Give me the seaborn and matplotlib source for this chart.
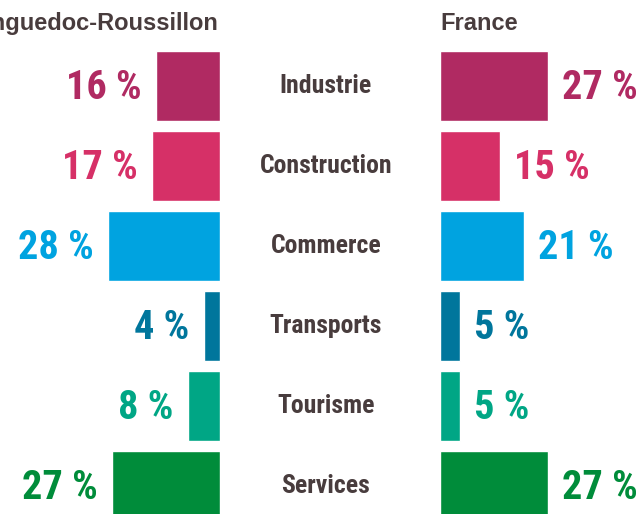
"""Share of employment by sector: Languedoc-Roussillon vs France."""

import matplotlib
matplotlib.use("Agg")
import matplotlib.pyplot as plt
import matplotlib.transforms as mtransforms
import pandas as pd
import seaborn as sns

sectors = ["Industrie", "Construction", "Commerce", "Transports", "Tourisme", "Services"]
region_pct = [16, 17, 28, 4, 8, 27]
france_pct = [27, 15, 21, 5, 5, 27]
sector_colors = ["#b02a62", "#d63067", "#00a3e0", "#00769c", "#00a685", "#008c3a"]

region_title = "Languedoc-Roussillon"
france_title = "France"

TEXT_DARK = "#483c3d"
CONDENSED = ["Roboto Condensed", "DejaVu Sans"]
TITLE_FONT = ["Liberation Sans", "DejaVu Sans"]

W, H = 642, 514
AX_TOP, ROW_PITCH = 46, 80
PX_PER_PCT = 4.0


def add_side(fig, left_px, width_px, values, invert):
    ax = fig.add_axes([left_px / W, 0, width_px / W, (H - AX_TOP) / H])
    df = pd.DataFrame({"sector": sectors, "pct": values})
    sns.barplot(
        data=df, x="pct", y="sector", hue="sector", palette=sector_colors,
        orient="h", width=0.875, saturation=1, legend=False, ax=ax,
    )
    xmax = width_px / PX_PER_PCT
    ax.set_xlim((xmax, 0) if invert else (0, xmax))
    ax.set_ylim(len(sectors) - 0.5 + (H - AX_TOP - len(sectors) * ROW_PITCH) / ROW_PITCH, -0.5)
    ax.set_axis_off()

    offset = 3.6
    for i, (v, c) in enumerate(zip(values, sector_colors)):
        ax.text(
            v + offset, i + 0.03, f"{v} %",
            ha="right" if invert else "left", va="center",
            color=c, fontsize=29, fontweight="bold", family=CONDENSED, clip_on=False,
        )
    return ax


sns.set_theme(style="white")
fig = plt.figure(figsize=(W / 100, H / 100), dpi=100)
fig.patch.set_facecolor("white")

ax_left = add_side(fig, 0, 220, region_pct, invert=True)
ax_right = add_side(fig, 440, W - 440, france_pct, invert=False)

# sector names in the middle column
trans = mtransforms.blended_transform_factory(fig.transFigure, ax_left.transData)
for i, name in enumerate(sectors):
    ax_left.text(
        326 / W, i, name, transform=trans, ha="center", va="center",
        color=TEXT_DARK, fontsize=18.5, fontweight="bold", family=CONDENSED, clip_on=False,
    )

fig.text(218 / W, 1 - 30 / H, region_title, ha="right", va="baseline",
         color=TEXT_DARK, fontsize=17, fontweight="bold", family=TITLE_FONT)
fig.text(440 / W, 1 - 30 / H, france_title, ha="left", va="baseline",
         color=TEXT_DARK, fontsize=17, fontweight="bold", family=TITLE_FONT)

fig.savefig("out.png", dpi=100)
